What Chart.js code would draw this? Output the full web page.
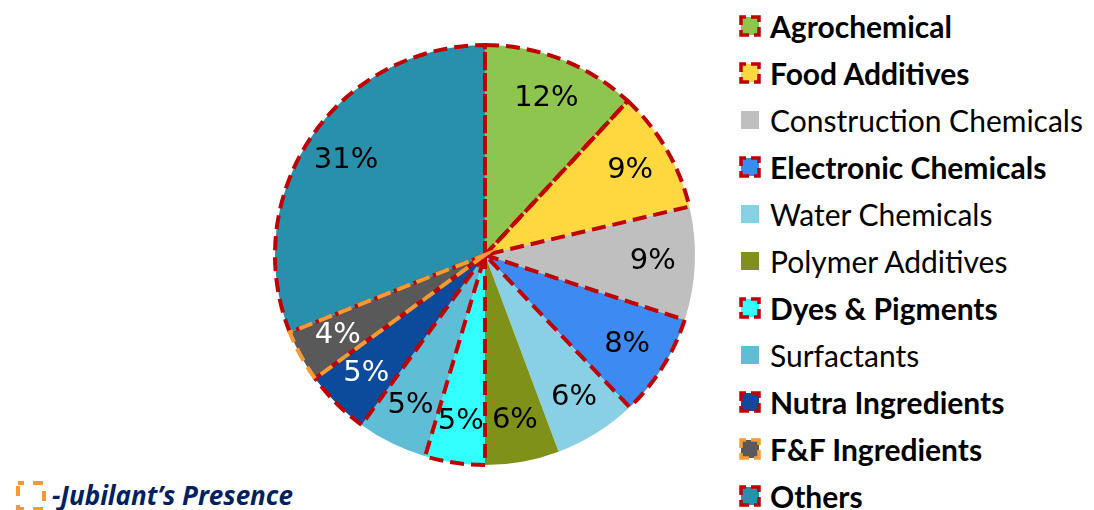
<!DOCTYPE html>
<html>
<head>
<meta charset="utf-8">
<script src="https://cdn.jsdelivr.net/npm/chart.js@4/dist/chart.umd.min.js"></script>
<style>
  body { margin: 0; background: #fff; width: 1094px; height: 510px; overflow: hidden; position: relative; }
  #pie-wrap { position: absolute; left: 265px; top: 35px; width: 440px; height: 440px; }
  #legend { position: absolute; left: 738px; top: 2px; font-family: Lato, "Open Sans", sans-serif; font-size: 30px; color: #000; }
  .item { height: 47px; display: flex; align-items: center; white-space: nowrap; }
  .item svg { margin-right: 8px; flex: none; }
  .item.bold { font-weight: bold; }
  #note { position: absolute; left: 13px; top: 477px; display: flex; align-items: center; font-family: "Open Sans", sans-serif; font-weight: bold; font-style: italic; font-size: 26px; color: #002060; }
  #note svg { margin-right: 3px; }
</style>
</head>
<body>
<div id="pie-wrap"><canvas id="pie"></canvas></div>
<div id="legend"></div>
<div id="note">
  <svg width="36" height="33"><rect x="5" y="4" width="26" height="26" fill="none" stroke="#F79A33" stroke-width="4" stroke-dasharray="10 9" stroke-dashoffset="4"/></svg>
  <span>-Jubilant’s Presence</span>
</div>
<script>
const categories = ['Agrochemical', 'Food Additives', 'Construction Chemicals', 'Electronic Chemicals',
  'Water Chemicals', 'Polymer Additives', 'Dyes & Pigments', 'Surfactants',
  'Nutra Ingredients', 'F&F Ingredients', 'Others'];
const shares = [11.9, 9.4, 8.7, 7.9, 6.4, 5.7, 4.6, 5.4, 5.0, 4.0, 31.0];
const colors = ['#8DC54F', '#FFD83F', '#BFBFBF', '#3D8BF2', '#8AD0E4', '#7F9119',
  '#33FFFF', '#60BDD6', '#0C4A9C', '#595959', '#2990AB'];
// dashed outline = Jubilant's presence (null = none)
const outlines = ['#C00000', '#C00000', null, '#C00000', null, null,
  '#C00000', null, '#C00000', '#F79A33', '#C00000'];
const labelColors = ['#000', '#000', '#000', '#000', '#000', '#000',
  '#000', '#000', '#fff', '#fff', '#000'];

// html legend, bold for outlined categories
const legend = document.getElementById('legend');
categories.forEach((name, i) => {
  const div = document.createElement('div');
  div.className = 'item' + (outlines[i] ? ' bold' : '');
  const stroke = outlines[i] ? `stroke="${outlines[i]}" stroke-width="3.5" stroke-dasharray="13 5" stroke-dashoffset="8"` : '';
  div.innerHTML = `<svg width="24" height="24"><rect x="3" y="3" width="18" height="18" fill="${colors[i]}" ${stroke}/></svg>`;
  const span = document.createElement('span');
  span.textContent = name;
  div.appendChild(span);
  legend.appendChild(div);
});

const slicePlugin = {
  id: 'slicePlugin',
  afterDatasetsDraw(chart) {
    const ctx = chart.ctx;
    const arcs = chart.getDatasetMeta(0).data;
    // outlines: red first, orange on top
    const order = [...arcs.keys()].sort((a, b) => (outlines[a] === '#F79A33') - (outlines[b] === '#F79A33'));
    ctx.save();
    order.forEach(i => {
      if (!outlines[i]) return;
      const { x, y, startAngle, endAngle, outerRadius } = arcs[i].getProps(['x', 'y', 'startAngle', 'endAngle', 'outerRadius'], true);
      ctx.beginPath();
      ctx.moveTo(x, y);
      ctx.arc(x, y, outerRadius, startAngle, endAngle);
      ctx.closePath();
      ctx.strokeStyle = outlines[i];
      ctx.lineWidth = 4;
      ctx.setLineDash([14, 7]);
      ctx.lineJoin = 'miter';
      ctx.stroke();
    });
    ctx.setLineDash([]);
    // percentage labels
    ctx.font = '29px "DejaVu Sans"';
    ctx.textAlign = 'center';
    ctx.textBaseline = 'middle';
    arcs.forEach((arc, i) => {
      const { x, y, startAngle, endAngle, outerRadius } = arc.getProps(['x', 'y', 'startAngle', 'endAngle', 'outerRadius'], true);
      const mid = (startAngle + endAngle) / 2;
      const r = outerRadius * 0.8;
      ctx.fillStyle = labelColors[i];
      ctx.fillText(Math.round(shares[i]) + '%', x + Math.cos(mid) * r, y + Math.sin(mid) * r);
    });
    ctx.restore();
  }
};

new Chart(document.getElementById('pie'), {
  type: 'pie',
  data: {
    labels: categories,
    datasets: [{ data: shares, backgroundColor: colors, borderWidth: 0 }]
  },
  options: {
    responsive: true,
    maintainAspectRatio: false,
    animation: false,
    layout: { padding: 10 },
    plugins: { legend: { display: false }, tooltip: { enabled: false } }
  },
  plugins: [slicePlugin]
});
</script>
</body>
</html>
